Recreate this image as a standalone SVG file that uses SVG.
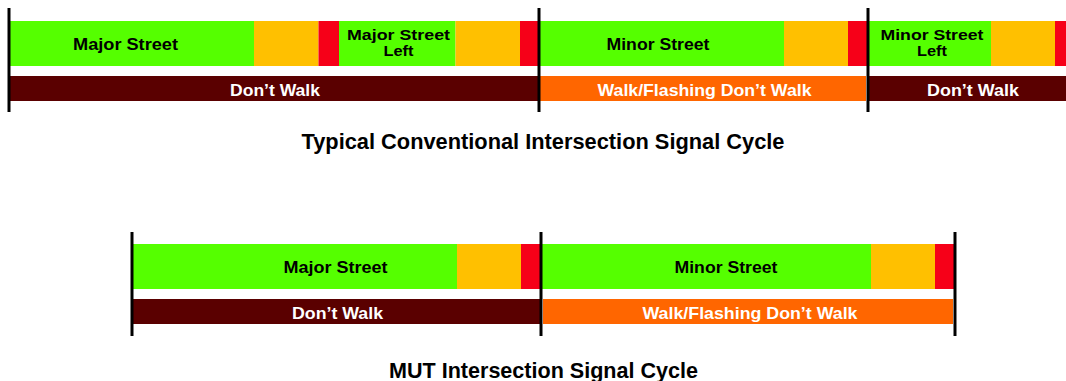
<svg xmlns="http://www.w3.org/2000/svg" width="1066" height="381" viewBox="0 0 1066 381">
<style>
.g{fill:#55FF00}.y{fill:#FFC000}.r{fill:#F60018}.d{fill:#5A0000}.o{fill:#FF6600}
text{font-family:"Liberation Sans",Arial,sans-serif;font-weight:bold;text-anchor:middle}
.lb{font-size:17px;fill:#000}.lb2{font-size:15px;fill:#000}.wl{font-size:17px;fill:#fff}.tt{font-size:22px;fill:#000}
.tick{stroke:#000;stroke-width:3;fill:none}
</style>
<rect width="1066" height="381" fill="#fff"/>
<g id="top-cycle">
<g id="t-major"><rect class="g" x="10" y="21" width="244" height="45"/><rect class="y" x="254" y="21" width="64.5" height="45"/><rect class="r" x="318.5" y="21" width="20.5" height="45"/>
<text class="lb" x="125.5" y="50" textLength="105" lengthAdjust="spacingAndGlyphs">Major Street</text></g>
<g id="t-majorleft"><rect class="g" x="339" y="21" width="116.5" height="45"/><rect class="y" x="455.5" y="21" width="64.5" height="45"/><rect class="r" x="520" y="21" width="19" height="45"/>
<text class="lb2" x="398.5" y="39.5" textLength="103" lengthAdjust="spacingAndGlyphs">Major Street</text><text class="lb2" x="398.5" y="55.5" textLength="30" lengthAdjust="spacingAndGlyphs">Left</text></g>
<g id="t-minor"><rect class="g" x="539" y="21" width="245" height="45"/><rect class="y" x="784" y="21" width="64" height="45"/><rect class="r" x="848" y="21" width="20" height="45"/>
<text class="lb" x="658" y="50" textLength="103" lengthAdjust="spacingAndGlyphs">Minor Street</text></g>
<g id="t-minorleft"><rect class="g" x="868" y="21" width="123" height="45"/><rect class="y" x="991" y="21" width="64" height="45"/><rect class="r" x="1055" y="21" width="11" height="45"/>
<text class="lb2" x="932" y="39.5" textLength="103" lengthAdjust="spacingAndGlyphs">Minor Street</text><text class="lb2" x="932" y="55.5" textLength="30" lengthAdjust="spacingAndGlyphs">Left</text></g>
<g id="t-dw1"><rect class="d" x="10" y="76" width="529" height="25"/><text class="wl" x="275" y="96" textLength="90" lengthAdjust="spacingAndGlyphs">Don’t Walk</text></g>
<g id="t-walk"><rect class="o" x="540" y="76" width="326" height="25"/><text class="wl" x="704.5" y="96" textLength="214" lengthAdjust="spacingAndGlyphs">Walk/Flashing Don’t Walk</text></g>
<g id="t-dw2"><rect class="d" x="869" y="76" width="197" height="25"/><text class="wl" x="973" y="96" textLength="92" lengthAdjust="spacingAndGlyphs">Don’t Walk</text></g>
<g id="t-title"><text class="tt" x="543" y="149" textLength="483" lengthAdjust="spacingAndGlyphs">Typical Conventional Intersection Signal Cycle</text></g>
</g>
<g id="mut-cycle">
<g id="m-major"><rect class="g" x="133" y="244" width="324" height="45"/><rect class="y" x="457" y="244" width="64" height="45"/><rect class="r" x="521" y="244" width="20" height="45"/>
<text class="lb" x="335.5" y="273" textLength="104" lengthAdjust="spacingAndGlyphs">Major Street</text></g>
<g id="m-minor"><rect class="g" x="541" y="244" width="330" height="45"/><rect class="y" x="871" y="244" width="64" height="45"/><rect class="r" x="935" y="244" width="20" height="45"/>
<text class="lb" x="726" y="273" textLength="103" lengthAdjust="spacingAndGlyphs">Minor Street</text></g>
<g id="m-dw"><rect class="d" x="133" y="299" width="407" height="25"/><text class="wl" x="337.5" y="319" textLength="91" lengthAdjust="spacingAndGlyphs">Don’t Walk</text></g>
<g id="m-walk"><rect class="o" x="543" y="299" width="410" height="25"/><text class="wl" x="750" y="319" textLength="215" lengthAdjust="spacingAndGlyphs">Walk/Flashing Don’t Walk</text></g>
<g id="m-title"><text class="tt" x="543.5" y="378" textLength="309" lengthAdjust="spacingAndGlyphs">MUT Intersection Signal Cycle</text></g>
</g>
<g id="connectors">
<line class="tick" x1="9" y1="8" x2="9" y2="112"/>
<line class="tick" x1="539" y1="8" x2="539" y2="112"/>
<line class="tick" x1="868" y1="8" x2="868" y2="112"/>
<line class="tick" x1="132" y1="232" x2="132" y2="336"/>
<line class="tick" x1="541" y1="232" x2="541" y2="336"/>
<line class="tick" x1="955" y1="232" x2="955" y2="336"/>
</g>
</svg>
